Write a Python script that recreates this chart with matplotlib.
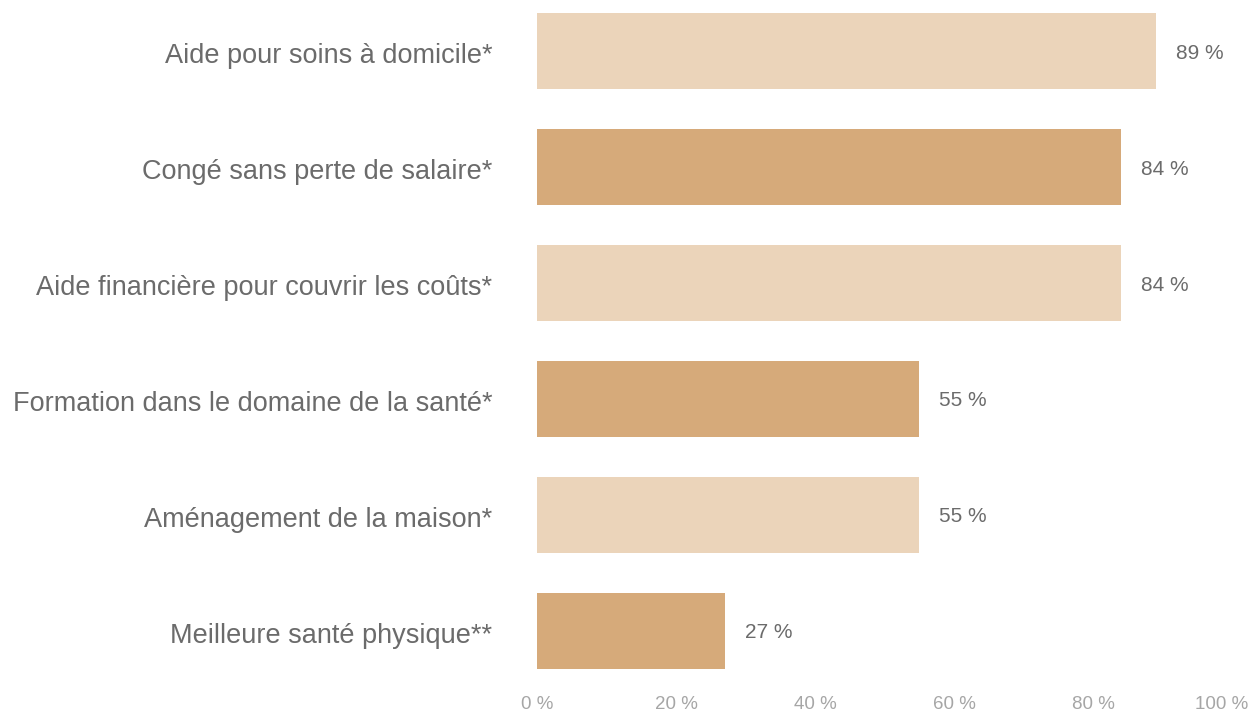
import matplotlib
matplotlib.use("Agg")
import matplotlib.pyplot as plt
import matplotlib.transforms as mtransforms

categories = [
    "Aide pour soins à domicile*",
    "Congé sans perte de salaire*",
    "Aide financière pour couvrir les coûts*",
    "Formation dans le domaine de la santé*",
    "Aménagement de la maison*",
    "Meilleure santé physique**",
]
values = [89, 84, 84, 55, 55, 27]
xticks = [0, 20, 40, 60, 80, 100]
xtick_labels = ["0 %", "20 %", "40 %", "60 %", "80 %", "100 %"]

light = "#EBD4BA"
dark = "#D6AA7A"
colors = [light if i % 2 == 0 else dark for i in range(len(values))]

plt.rcParams['font.family'] = ['Liberation Sans', 'DejaVu Sans']

W, H = 1254, 711
fig = plt.figure(figsize=(W / 100, H / 100), dpi=100)
left, right = 537, 1232
top, bottom = 0, 682
ax = fig.add_axes([left / W, 1 - bottom / H, (right - left) / W, (bottom - top) / H])

ypos = list(range(len(categories)))
ax.barh(ypos, values, height=0.66, color=colors, edgecolor='none')
ax.set_xlim(0, 100)
ax.set_ylim(5.44, -0.44)

for y, v in zip(ypos, values):
    ax.annotate(f"{v} %", xy=(v, y), xytext=(20, -2), textcoords='offset pixels',
                va='center', ha='left', fontsize=15, color='#6B6B6B')

ax.set_yticks(ypos)
ax.set_yticklabels(categories, fontsize=19.5, color='#6B6B6B')
ax.tick_params(axis='y', length=0, pad=32)
ax.set_xticks(xticks)
ax.set_xticklabels(xtick_labels, fontsize=13.5, color='#A6A6A6')
ax.tick_params(axis='x', length=0, pad=10)
for s in ax.spines.values():
    s.set_visible(False)

yoff = mtransforms.ScaledTranslation(0, -2 / 100, fig.dpi_scale_trans)
for lbl in ax.get_yticklabels():
    lbl.set_transform(lbl.get_transform() + yoff)

lbls = ax.get_xticklabels()
off = mtransforms.ScaledTranslation(-10 / 100, 0, fig.dpi_scale_trans)
lbls[-1].set_transform(lbls[-1].get_transform() + off)

fig.savefig("out.png", dpi=100)
